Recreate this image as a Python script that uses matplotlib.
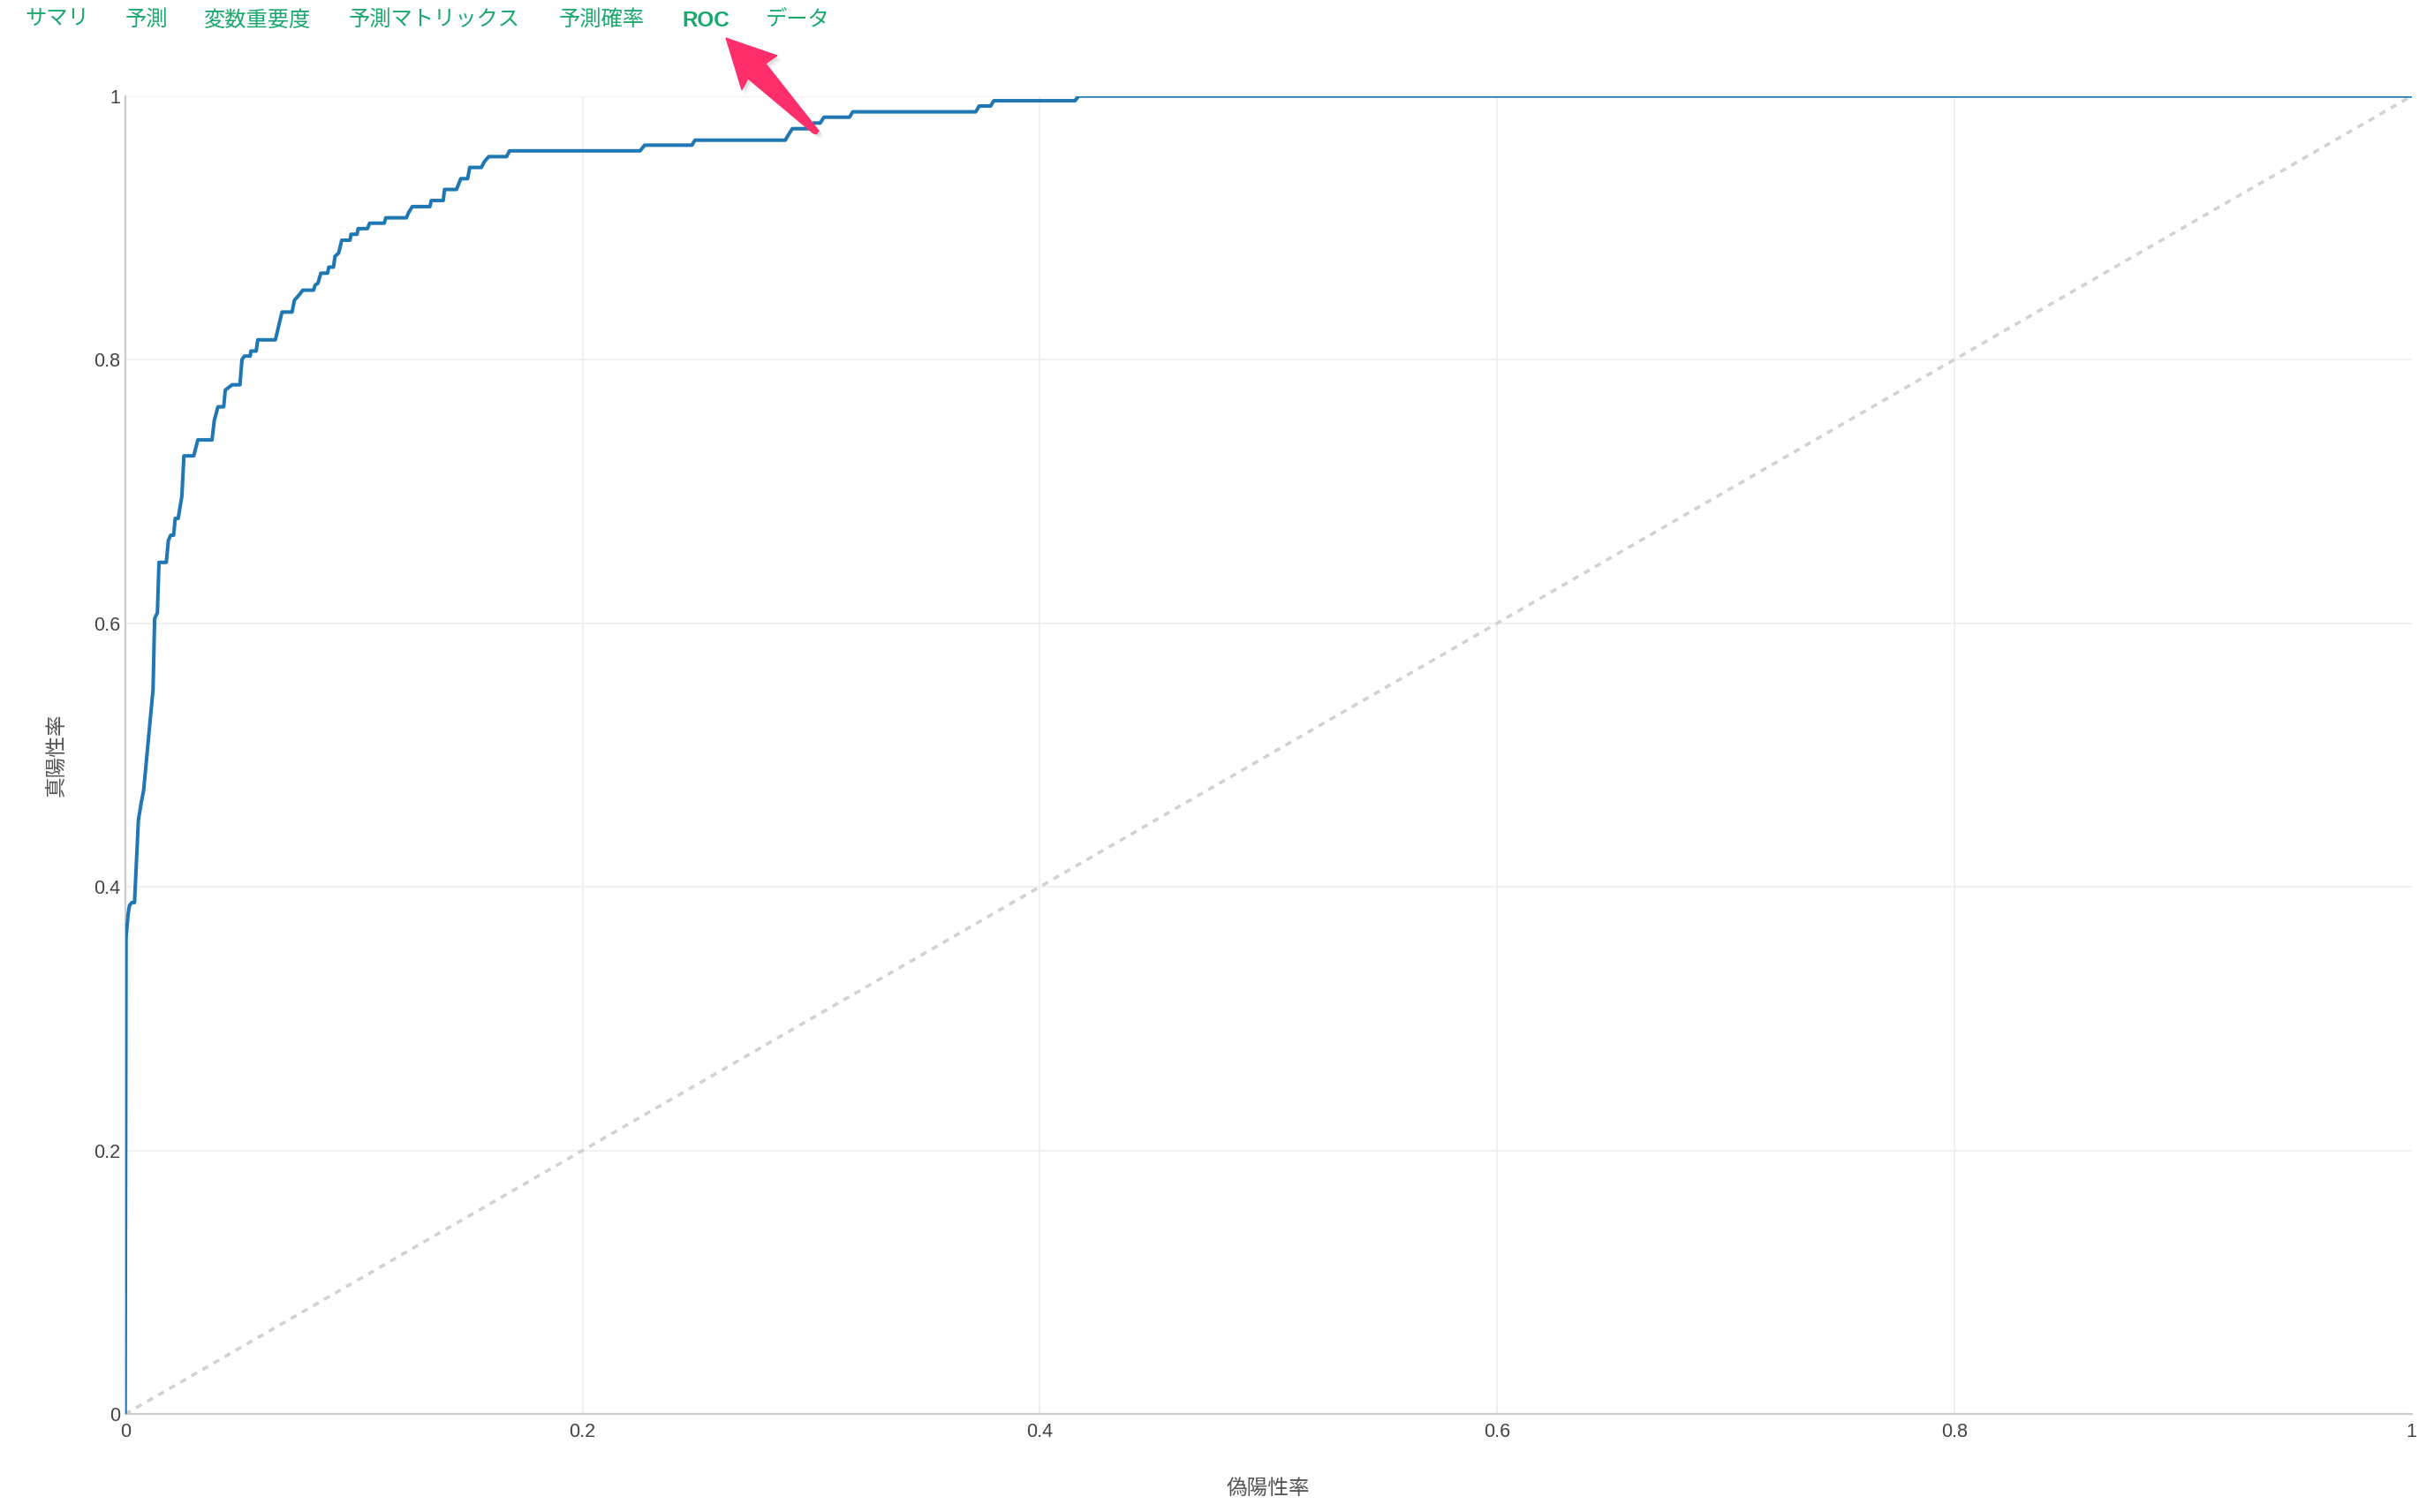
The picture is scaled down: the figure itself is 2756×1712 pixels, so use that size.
import matplotlib
matplotlib.use("Agg")
import matplotlib.pyplot as plt
from matplotlib.patches import Polygon

plt.rcParams['font.family'] = ['Liberation Sans', 'Noto Sans CJK JP', 'DejaVu Sans']

# ROC curve
fpr = [0, 0.0004, 0.0013, 0.0019, 0.0029, 0.0041, 0.0058, 0.0071, 0.0081, 0.0122,
       0.0129, 0.0141, 0.0148, 0.0180, 0.0189, 0.0199, 0.0212, 0.0219, 0.0232, 0.0248,
       0.0257, 0.0300, 0.0318, 0.0380, 0.0390, 0.0406, 0.0431, 0.0438, 0.0468, 0.0502,
       0.0511, 0.0522, 0.0547, 0.0550, 0.0573, 0.0580, 0.0657, 0.0670, 0.0686, 0.0730,
       0.0740, 0.0760, 0.0777, 0.0824, 0.0831, 0.0843, 0.0856, 0.0885, 0.0891, 0.0911,
       0.0918, 0.0934, 0.0947, 0.0983, 0.0988, 0.1014, 0.1019, 0.1060, 0.1069, 0.1133,
       0.1140, 0.1230, 0.1240, 0.1256, 0.1333, 0.1339, 0.1391, 0.1397, 0.1449, 0.1468,
       0.1498, 0.1507, 0.1558, 0.1571, 0.1590, 0.1668, 0.1681, 0.2252, 0.2272, 0.2479,
       0.2492, 0.2887, 0.2903, 0.2918, 0.2997, 0.3011, 0.3040, 0.3056, 0.3168, 0.3182,
       0.3720, 0.3735, 0.3785, 0.3799, 0.4154, 0.4170, 1.0]
tpr = [0, 0.3613, 0.3792, 0.3859, 0.3881, 0.3881, 0.4510, 0.4644, 0.4734, 0.5497,
       0.6035, 0.6080, 0.6462, 0.6462, 0.6629, 0.6668, 0.6668, 0.6796, 0.6796, 0.6963,
       0.7270, 0.7270, 0.7391, 0.7391, 0.7540, 0.7642, 0.7642, 0.7769, 0.7809, 0.7809,
       0.8001, 0.8027, 0.8027, 0.8065, 0.8065, 0.8150, 0.8150, 0.8245, 0.8361, 0.8361,
       0.8450, 0.8489, 0.8527, 0.8527, 0.8566, 0.8579, 0.8656, 0.8656, 0.8702, 0.8702,
       0.8784, 0.8809, 0.8906, 0.8906, 0.8951, 0.8951, 0.8994, 0.8994, 0.9035, 0.9035,
       0.9076, 0.9076, 0.9117, 0.9161, 0.9161, 0.9207, 0.9207, 0.9291, 0.9291, 0.9373,
       0.9373, 0.9458, 0.9458, 0.9502, 0.9540, 0.9540, 0.9584, 0.9584, 0.9627, 0.9627,
       0.9665, 0.9665, 0.9712, 0.9752, 0.9752, 0.9795, 0.9795, 0.9839, 0.9839, 0.9880,
       0.9880, 0.9924, 0.9924, 0.9964, 0.9964, 1.0, 1.0]
diag = [0, 1]

ticks = [0, 0.2, 0.4, 0.6, 0.8, 1]
tick_labels = ['0', '0.2', '0.4', '0.6', '0.8', '1']
x_title = '偽陽性率'
y_title = '真陽性率'

tabs = ['サマリ', '予測', '変数重要度', '予測マトリックス', '予測確率', 'ROC', 'データ']
tab_left_px = [28, 142, 231, 395, 633, 772, 867]
active_tab = 'ROC'

W, H = 2756, 1712
fig = plt.figure(figsize=(W / 100, H / 100), dpi=100)
ax = fig.add_axes([141.7 / W, 1 - 1601.2 / H, (2730.7 - 141.7) / W, (1601.2 - 108.7) / H])

ax.plot(diag, diag, color='#d2d2d2', lw=2.6, dashes=(2.0, 2.0), zorder=2)
ax.plot(fpr, tpr, color='#1f77b4', lw=2.9, zorder=3)

ax.set_xlim(0, 1)
ax.set_ylim(0, 1)
ax.set_xticks(ticks)
ax.set_xticklabels(tick_labels)
ax.set_yticks(ticks)
ax.set_yticklabels(tick_labels)
ax.tick_params(length=0, labelsize=15.5, labelcolor='#444444')
ax.tick_params(axis='x', pad=7)
ax.tick_params(axis='y', pad=4)

ax.grid(True, color='#eeeeee', lw=1.1, zorder=0)
ax.set_axisbelow(True)
ax.xaxis.get_gridlines()[-1].set_visible(False)
ax.xaxis.get_gridlines()[0].set_visible(False)
ax.yaxis.get_gridlines()[0].set_visible(False)

for s in ['top', 'right']:
    ax.spines[s].set_visible(False)
for s in ['left', 'bottom']:
    ax.spines[s].set_color('#cccccc')
    ax.spines[s].set_linewidth(1.6)

ax.set_xlabel(x_title, fontsize=17, color='#555555', family=['Noto Sans CJK JP'])
ax.xaxis.label.set_va('center')
ax.xaxis.set_label_coords(0.5, -(1685 - 1601.2) / 1492.5)
ax.set_ylabel(y_title, fontsize=17, color='#555555', family=['Noto Sans CJK JP'])
ax.yaxis.label.set_va('center')
ax.yaxis.set_label_coords(-(141.7 - 64) / 2589, 0.5)

# tab bar on top
for name, left in zip(tabs, tab_left_px):
    bold = name == active_tab
    fig.text(left / W, 1 - 23 / H, name, fontsize=17.5, color='#1aa86c',
             ha='left', va='center', fontweight='bold' if bold else 'normal',
             family=['Liberation Sans', 'Noto Sans CJK JP'])

# pink pointer arrow
arrow_px = [(822, 43), (880, 63), (867, 72), (927, 148), (925, 151.5),
            (921, 151), (847, 89), (840, 102)]


def to_fig(pts, dx=0, dy=0):
    return [((x + dx) / W, 1 - (y + dy) / H) for x, y in pts]


for off, a in [(5, 0.05), (3, 0.08)]:
    fig.add_artist(Polygon(to_fig(arrow_px, off, off), closed=True,
                           transform=fig.transFigure, facecolor=(0, 0, 0, a),
                           edgecolor='none', zorder=9))
fig.add_artist(Polygon(to_fig(arrow_px), closed=True, transform=fig.transFigure,
                       facecolor='#fe2e6b', edgecolor='#fe2e6b', lw=0.8, zorder=10))

fig.savefig('out.png', dpi=100, facecolor='white')
